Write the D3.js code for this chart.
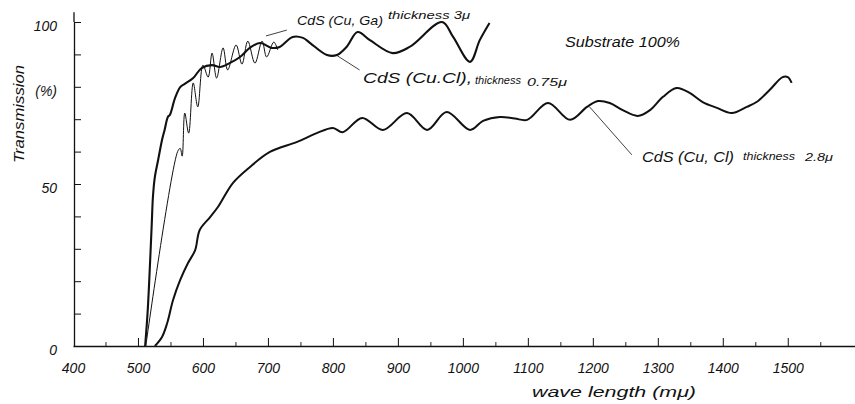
<!DOCTYPE html>
<html><head><meta charset="utf-8">
<script src="https://cdn.jsdelivr.net/npm/d3@7"></script>
<style>
body{margin:0;background:#fff;}
svg{display:block;}
text{font-family:"Liberation Sans","DejaVu Sans",sans-serif;font-style:italic;fill:#111;}
</style></head><body>
<svg id="chart" width="855" height="404"></svg>
<script>
// ---- data ----
const xMajorTicks = [400,500,600,700,800,900,1000,1100,1200,1300,1400,1500];
const xMinorTicks = [450,550,650,750,850,950,1050,1150,1250,1350,1450,1550];
const yTicks = [10,20,30,40,50,60,70,80,90,100];
const yTickLabels = [{v:100,t:"100"},{v:80,t:"(%)"},{v:50,t:"50"},{v:0,t:"0"}];

// CdS (Cu, Ga) thickness 3μ  (thin, finely oscillating)
const cuGa3Wl = [512,561,565,568,572,578,585,592,600,608,614,621,631,638,651,660,669,680,691,698,709,715];
const cuGa3T  = [0,60,61,58.6,71.9,65.7,81.2,73.8,86.7,83,90.4,82.7,92,85.2,92.9,87,94.1,87.3,94.1,89.2,93.8,91.4];

// CdS (Cu, Cl) thickness 0.75μ (thick, broad fringes)
const cuCl075Wl = [511,515,521,523,526,531,537,541,546,549,557,565,572,585,598,614,626,641,657,672,688,706,718,738,754,765,791,806,821,838,857,892,918,968,985,1011,1026,1041];
const cuCl075T  = [0,11,36.7,46,52.2,57.4,63.6,66.7,70.7,71.3,76.5,79.9,80.9,82.7,85.8,86.7,86.1,87.3,89.2,92,93.5,92,92.3,95.4,95.1,93.5,89.8,89.8,92.3,96.9,94.4,90.4,92.3,100,95.4,87.7,94.4,99.7];

// CdS (Cu, Cl) thickness 2.8μ (lower curve)
const cuCl28Wl = [526,537,545,554,565,577,588,595,611,623,646,672,703,745,775,800,815,845,877,914,945,975,1011,1031,1057,1080,1099,1131,1165,1191,1208,1226,1246,1269,1288,1308,1329,1349,1369,1391,1414,1437,1452,1472,1492,1500,1506];
const cuCl28T  = [0,2.8,7.1,14.2,20.4,25.6,29.6,35.8,39.8,42.9,50.3,55.2,59.9,63,65.7,67.3,66,70.4,66.7,71.9,66.7,72.2,66.7,69.5,70.7,70.2,69.8,75,69.8,73.8,75.6,75,72.8,71,72.8,76.9,79.6,78.1,75.3,73.5,71.9,73.8,75.3,79,83,83,81.2];

// ---- chart ----
const svg = d3.select("#chart");
const x = d3.scaleLinear().domain([400,1605]).range([73,856]);
const y = d3.scaleLinear().domain([0,100]).range([346,22]);
const ink = "#111";

// x axis
const gx = svg.append("g").attr("transform",`translate(0,${y(0)})`);
gx.call(d3.axisBottom(x).tickValues(xMajorTicks).tickSize(-8).tickSizeOuter(0).tickPadding(17)
  .tickFormat(d3.format("d")));
gx.selectAll("text").attr("font-size",14).attr("fill",ink).attr("font-family",null);
gx.select(".domain").attr("stroke",ink).attr("stroke-width",1.3);
gx.selectAll(".tick line").attr("stroke",ink).attr("stroke-width",1);
gx.selectAll(".tick").filter(d=>d===400).select("line").remove();
const gx2 = svg.append("g").attr("transform",`translate(0,${y(0)})`);
gx2.call(d3.axisBottom(x).tickValues(xMinorTicks).tickSize(-4).tickSizeOuter(0).tickFormat(""));
gx2.select(".domain").remove();
gx2.selectAll(".tick line").attr("stroke",ink).attr("stroke-width",0.9);

// y axis
const gy = svg.append("g").attr("transform",`translate(${x(400)+1},0)`);
gy.call(d3.axisLeft(y).tickValues(yTicks).tickSize(-7).tickSizeOuter(0).tickFormat(""));
gy.select(".domain").attr("stroke",ink).attr("stroke-width",1.3);
gy.selectAll(".tick line").attr("stroke",ink).attr("stroke-width",1);
gy.append("line").attr("x1",0).attr("x2",0).attr("y1",y(100)).attr("y2",y(103)).attr("stroke",ink).attr("stroke-width",1.3);

svg.selectAll(".ylab").data(yTickLabels).enter().append("text")
  .attr("class","ylab").attr("x",57).attr("y",d=>y(d.v)+9)
  .attr("text-anchor","end").attr("font-size",14).text(d=>d.t);

svg.append("text").attr("transform","translate(24,114) rotate(-90)")
  .attr("text-anchor","middle").attr("font-size",15).attr("textLength",98)
  .attr("lengthAdjust","spacingAndGlyphs").text("Transmission");

svg.append("text").attr("x",532).attr("y",397).attr("font-size",15)
  .attr("textLength",164).attr("lengthAdjust","spacingAndGlyphs").text("wave length (mμ)");

// curves
const line = d3.line().x(d=>x(d[0])).y(d=>y(d[1])).curve(d3.curveCatmullRom.alpha(0.5));
function series(wl,t){ return wl.map((w,i)=>[w,t[i]]); }
svg.append("path").datum(series(cuCl28Wl,cuCl28T)).attr("d",line)
  .attr("fill","none").attr("stroke",ink).attr("stroke-width",2).attr("stroke-linejoin","round");
svg.append("path").datum(series(cuCl075Wl,cuCl075T)).attr("d",line)
  .attr("fill","none").attr("stroke",ink).attr("stroke-width",2.1).attr("stroke-linejoin","round");
svg.append("path").datum(series(cuGa3Wl,cuGa3T)).attr("d",line)
  .attr("fill","none").attr("stroke",ink).attr("stroke-width",1).attr("stroke-linejoin","round");

// leader lines (data coordinates)
const leaders = [[697,95.7,729,97.5],[805,89.8,841,85.2],[1195,73.8,1260,59]];
svg.selectAll(".leader").data(leaders).enter().append("line").attr("class","leader")
  .attr("x1",d=>x(d[0])).attr("y1",d=>y(d[1])).attr("x2",d=>x(d[2])).attr("y2",d=>y(d[3]))
  .attr("stroke",ink).attr("stroke-width",0.8);

// labels
const labels = [
  {t:"CdS (Cu, Ga)", px:297, py:25, s:13, w:86},
  {t:"thickness 3μ", px:388, py:19, s:10, w:82},
  {t:"CdS (Cu.Cl),", px:363, py:83, s:14, w:109},
  {t:"thickness", px:475, py:84, s:11, w:46},
  {t:"0.75μ", px:527, py:86, s:10, w:40},
  {t:"CdS (Cu, Cl)", px:642, py:162, s:15, w:92},
  {t:"thickness", px:743, py:160, s:10, w:52},
  {t:"2.8μ", px:805, py:161, s:11, w:28},
  {t:"Substrate 100%", px:565, py:47, s:15, w:115}
];
svg.selectAll(".lab").data(labels).enter().append("text").attr("class","lab")
  .attr("x",d=>d.px).attr("y",d=>d.py).attr("font-size",d=>d.s)
  .attr("textLength",d=>d.w).attr("lengthAdjust","spacingAndGlyphs").text(d=>d.t);
</script>
</body></html>
